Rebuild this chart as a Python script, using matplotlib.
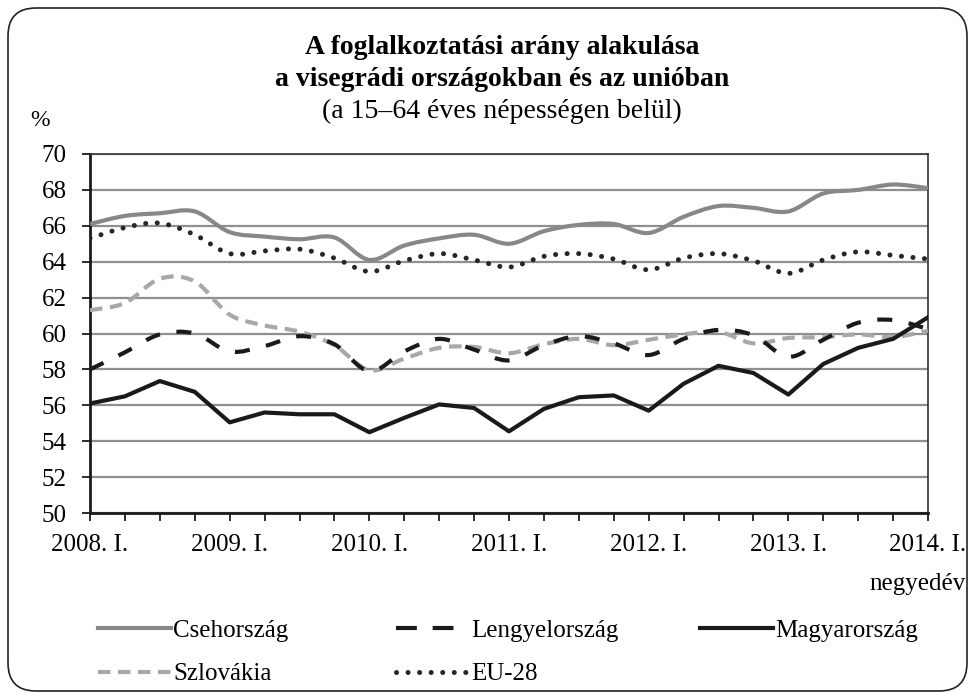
import numpy as np
import matplotlib as mpl
mpl.use('Agg')
import matplotlib.pyplot as plt
from matplotlib.path import Path
from matplotlib.patches import PathPatch, FancyBboxPatch
from matplotlib.lines import Line2D
from matplotlib.transforms import IdentityTransform

# negyedévek 2008. I. - 2014. I.
quarters = [f'{y}. {q}' for y in range(2008, 2015) for q in ['I.', 'II.', 'III.', 'IV.']][:25]

# foglalkoztatási arány, %
cseh = [66.1, 66.55, 66.7, 66.8, 65.65, 65.4, 65.25, 65.35, 64.1,
        64.9, 65.3, 65.5, 65.0, 65.7, 66.05, 66.1, 65.6,
        66.5, 67.1, 67.0, 66.8, 67.8, 68.0, 68.3, 68.1]
lengyel = [58.0, 58.95, 59.95, 60.0, 59.0, 59.3, 59.85, 59.4, 57.9,
           59.0, 59.7, 59.1, 58.5, 59.35, 59.85, 59.45, 58.8,
           59.7, 60.2, 59.9, 58.7, 59.65, 60.6, 60.75, 60.25]
magyar = [56.1, 56.5, 57.35, 56.75, 55.05, 55.6, 55.5, 55.5, 54.5,
          55.3, 56.05, 55.85, 54.55, 55.8, 56.45, 56.55, 55.7,
          57.2, 58.2, 57.8, 56.6, 58.3, 59.2, 59.7, 60.9]
szlovak = [61.3, 61.7, 63.05, 62.9, 61.05, 60.45, 60.1, 59.35, 57.95,
           58.6, 59.2, 59.25, 58.9, 59.4, 59.7, 59.35, 59.65,
           59.95, 60.1, 59.45, 59.75, 59.8, 59.95, 59.8, 60.15]
eu28 = [65.3, 65.9, 66.15, 65.5, 64.45, 64.6, 64.7, 64.2, 63.45,
        64.05, 64.45, 64.1, 63.7, 64.3, 64.45, 64.15, 63.55,
        64.2, 64.45, 64.05, 63.35, 64.1, 64.55, 64.35, 64.15]

names = ['Csehország', 'Lengyelország', 'Magyarország', 'Szlovákia', 'EU-28']

plt.rcParams['font.family'] = ['Liberation Serif', 'DejaVu Serif']


def smooth_path(x, y):
    # Excel-féle simított vonal (Catmull-Rom -> Bezier)
    n = len(x)
    verts = [(x[0], y[0])]
    codes = [Path.MOVETO]
    for i in range(n - 1):
        i0 = max(i - 1, 0)
        i3 = min(i + 2, n - 1)
        c1 = (x[i] + (x[i + 1] - x[i0]) / 6, y[i] + (y[i + 1] - y[i0]) / 6)
        c2 = (x[i + 1] - (x[i3] - x[i]) / 6, y[i + 1] - (y[i3] - y[i]) / 6)
        verts += [c1, c2, (x[i + 1], y[i + 1])]
        codes += [Path.CURVE4] * 3
    return Path(verts, codes)


if (__name__ == '__main__'):
    x = np.arange(len(quarters))

    fig = plt.figure(figsize=(9.75, 6.99), dpi=100)
    ax = fig.add_axes([90 / 975, 1 - 513 / 699, 838 / 975, 359 / 699])

    # stílusok
    st = {
        'Csehország': dict(color='#888888', lw=3.0, ls='-'),
        'Lengyelország': dict(color='#1a1a1a', lw=3.0, ls=(0, (3.6, 4.0))),
        'Magyarország': dict(color='#1a1a1a', lw=3.0, ls='-'),
        'Szlovákia': dict(color='#a8a8a8', lw=3.0, ls=(0, (3.0, 1.8))),
        'EU-28': dict(color='#262626', lw=3.6, ls=(0, (0.01, 2.3))),
    }

    for name, vals in zip(['Csehország', 'Szlovákia', 'EU-28', 'Lengyelország'],
                          [cseh, szlovak, eu28, lengyel]):
        s = st[name]
        p = PathPatch(smooth_path(x, vals), fill=False, edgecolor=s['color'],
                      lw=s['lw'], ls=s['ls'], capstyle='round' if name == 'EU-28' else 'butt',
                      joinstyle='round', zorder=3)
        ax.add_patch(p)
    s = st['Magyarország']
    ax.plot(x, magyar, color=s['color'], lw=s['lw'], ls='-', zorder=4)

    ax.set_xlim(0, 24)
    ax.set_ylim(50, 70)
    ax.set_yticks(range(50, 71, 2))
    ax.set_xticks(x)
    ax.set_xticklabels([q if i % 4 == 0 else '' for i, q in enumerate(quarters)])
    ax.tick_params(axis='both', labelsize=18, direction='out', length=6, width=1.3, color='#1a1a1a')
    ax.tick_params(axis='y', pad=11)
    ax.tick_params(axis='x', pad=9)

    ax.grid(True, axis='y', color='#8f8f8f', lw=1.6)
    ax.set_axisbelow(True)
    for side in ['left', 'bottom']:
        ax.spines[side].set_linewidth(2.0)
        ax.spines[side].set_color('#1a1a1a')
    for side in ['top', 'right']:
        ax.spines[side].set_linewidth(1.2)
        ax.spines[side].set_color('#333333')

    # címek
    fig.text(502 / 975, 1 - 47 / 699, 'A foglalkoztatási arány alakulása', ha='center', va='center',
             fontsize=20, fontweight='bold')
    fig.text(502 / 975, 1 - 79 / 699, 'a visegrádi országokban és az unióban', ha='center', va='center',
             fontsize=20, fontweight='bold')
    fig.text(502 / 975, 1 - 111 / 699, '(a 15–64 éves népességen belül)', ha='center', va='center',
             fontsize=20)
    fig.text(40 / 975, 1 - 121 / 699, '%', ha='center', va='center', fontsize=17)
    fig.text(966 / 975, 1 - 584 / 699, 'negyedév', ha='right', va='center', fontsize=18)

    # jelmagyarázat, három oszlop
    def h(name):
        s = st[name]
        ls = (0, (5.0, 3.8)) if name == 'Lengyelország' else s['ls']
        return Line2D([], [], color=s['color'], lw=s['lw'], ls=ls,
                      dash_capstyle='round' if name == 'EU-28' else 'butt')

    cols = [(['Csehország', 'Szlovákia'], 98), (['Lengyelország', 'EU-28'], 396), (['Magyarország'], 700)]
    for items, xl in cols:
        leg = fig.legend([h(n) for n in items], items, loc='upper left',
                         bbox_to_anchor=(xl / 975, 1 - 619 / 699), frameon=False, fontsize=18,
                         handlelength=2.9, handletextpad=0.1, labelspacing=0.85,
                         borderpad=0, borderaxespad=0)

    # lekerekített keret
    box = FancyBboxPatch((8, 8), 959, 683, boxstyle='round,pad=0,rounding_size=28',
                         transform=IdentityTransform(), fill=False, edgecolor='#222222', lw=1.2)
    fig.patches.append(box)

    fig.savefig('out.png', dpi=100)
